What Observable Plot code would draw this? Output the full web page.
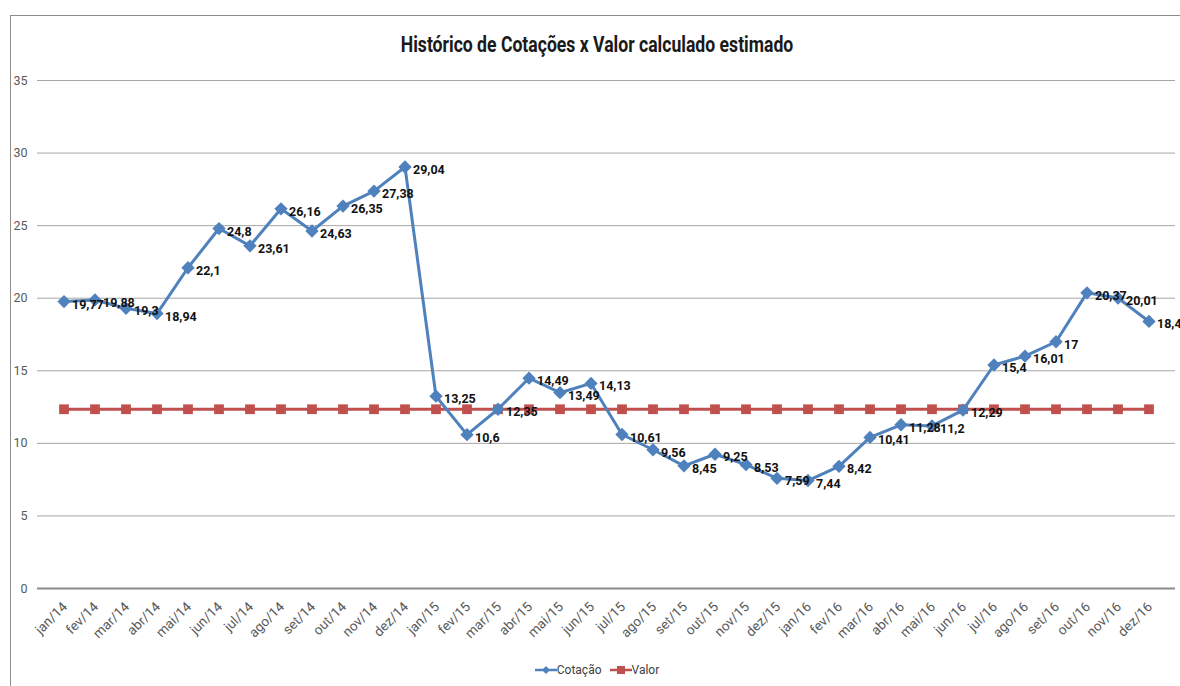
<!DOCTYPE html>
<html>
<head>
<meta charset="utf-8">
<script src="https://cdn.jsdelivr.net/npm/d3@7"></script>
<script src="https://cdn.jsdelivr.net/npm/@observablehq/plot@0.6"></script>
<style>
  body { margin: 0; background: #fff; font-family: Roboto, "Noto Sans", sans-serif; }
  #frame { position: absolute; left: 10px; top: 15px; width: 1190px; height: 700px; border: 1px solid #8c8c8c; box-sizing: border-box; }
  #title { position: absolute; left: 0; width: 1194px; top: 32px; text-align: center; font-size: 22px; font-weight: bold; color: #1a1a1a; transform: scaleX(0.8); transform-origin: 597px 0; white-space: nowrap; }
  #chart { position: absolute; left: 0; top: 60px; }
  #legend { position: absolute; left: 0; width: 1194px; top: 663px; text-align: center; font-size: 12px; color: #404040; }
  .li { display: inline-flex; align-items: center; margin: 0 4px; }
</style>
</head>
<body>
<div id="frame"></div>
<div id="title">Histórico de Cotações x Valor calculado estimado</div>
<div id="chart"></div>
<div id="legend"></div>
<script>
const months = [
  "jan/14","fev/14","mar/14","abr/14","mai/14","jun/14","jul/14","ago/14","set/14","out/14","nov/14","dez/14",
  "jan/15","fev/15","mar/15","abr/15","mai/15","jun/15","jul/15","ago/15","set/15","out/15","nov/15","dez/15",
  "jan/16","fev/16","mar/16","abr/16","mai/16","jun/16","jul/16","ago/16","set/16","out/16","nov/16","dez/16"
];
const cotacao = [
  19.77,19.88,19.3,18.94,22.1,24.8,23.61,26.16,24.63,26.35,27.38,29.04,
  13.25,10.6,12.35,14.49,13.49,14.13,10.61,9.56,8.45,9.25,8.53,7.59,
  7.44,8.42,10.41,11.28,11.2,12.29,15.4,16.01,17,20.37,20.01,18.4
];
const valor = months.map(() => 12.35);
const yTicks = [0,5,10,15,20,25,30,35];

const blue = "#4f81bd";
const red = "#c0504d";

const cot = months.map((m, i) => ({m, v: cotacao[i]}));
const val = months.map((m, i) => ({m, v: valor[i]}));
const fmt = v => String(v).replace(".", ",");

const chart = Plot.plot({
  width: 1180,
  height: 590,
  marginTop: 20,
  marginBottom: 62,
  marginLeft: 37,
  marginRight: 5,
  style: { fontFamily: "Roboto, 'Noto Sans', sans-serif", fontSize: "12px", color: "#595959", background: "transparent", overflow: "visible" },
  x: { type: "band", domain: months, padding: 0, label: null },
  y: { domain: [0, 35], label: null },
  marks: [
    Plot.ruleY(yTicks.filter(t => t > 0), { stroke: "#a6a6a6", strokeWidth: 1 }),
    Plot.ruleY([0], { stroke: "#8c8c8c", strokeWidth: 2 }),
    Plot.axisY({ ticks: yTicks, tickSize: 0, tickPadding: 10, fontSize: 12.5, fill: "#595959" }),
    Plot.axisX({ tickSize: 0, tickRotate: -45, tickPadding: 8, dx: 1, dy: 8, fontSize: 13.5, fill: "#595959" }),
    Plot.line(val, { x: "m", y: "v", stroke: red, strokeWidth: 3 }),
    Plot.dot(val, { x: "m", y: "v", symbol: "square", r: 5.5, fill: red, stroke: null }),
    Plot.line(cot, { x: "m", y: "v", stroke: blue, strokeWidth: 3 }),
    Plot.dot(cot, { x: "m", y: "v", symbol: "diamond2", r: 6, fill: blue, stroke: null }),
    Plot.text(cot, { x: "m", y: "v", text: d => fmt(d.v), textAnchor: "start", dx: 8, dy: 3, fontSize: 12.5, fontWeight: "bold", fill: "#111" })
  ]
});
document.getElementById("chart").appendChild(chart);

const legend = document.getElementById("legend");
[["Cotação", blue, "diamond"], ["Valor", red, "square"]].forEach(([name, color, shape]) => {
  const item = document.createElement("span");
  item.className = "li";
  const marker = shape === "diamond"
    ? `<polygon points="11,1 15,5 11,9 7,5" fill="${color}"/>`
    : `<rect x="7" y="1" width="8" height="8" fill="${color}"/>`;
  item.innerHTML = `<svg width="22" height="10"><line x1="0" y1="5" x2="22" y2="5" stroke="${color}" stroke-width="2.5"/>${marker}</svg><span>${name}</span>`;
  legend.appendChild(item);
});
</script>
</body>
</html>
